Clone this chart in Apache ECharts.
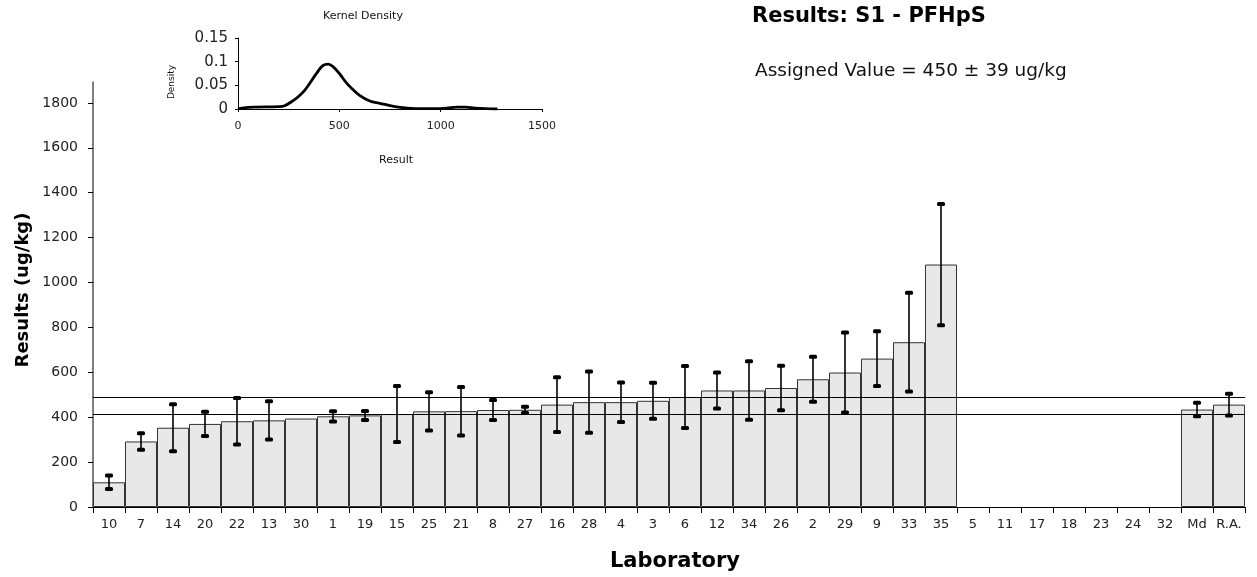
<!DOCTYPE html>
<html>
<head>
<meta charset="utf-8">
<script src="https://cdn.jsdelivr.net/npm/echarts@6/dist/echarts.min.js"></script>
<style>
  html, body { margin: 0; padding: 0; background: #fff; }
  #main { width: 1257px; height: 577px; }
</style>
</head>
<body>
<div id="main"></div>
<script>
// laboratories in plotted order
var labs = ['10','7','14','20','22','13','30','1','19','15','25','21','8','27','16','28','4','3','6',
  '12','34','26','2','29','9','33','35','5','11','17','18','23','24','32','Md','R.A.'];
var results = [110,292,353,370,382,386,394,404,408,414,426,427,432,433,456,467,467,473,490,
  519,519,530,569,599,661,734,1080,null,null,null,null,null,null,null,434,456];
// expanded uncertainty (+/-)
var uncert = [30,37,105,54,104,85,null,23,20,125,85,108,45,14,122,136,88,80,138,
  80,130,99,100,178,122,220,270,null,null,null,null,null,null,null,30,48];
var refLines = [412, 491];
var yTicks = [0,200,400,600,800,1000,1200,1400,1600,1800];

// kernel density inset
var densX = [0,20,80,200,230,270,300,330,360,390,420,445,470,500,530,560,600,650,700,750,800,850,900,980,1030,1080,1120,1170,1220,1280];
var densY = [0,0.002,0.004,0.005,0.007,0.017,0.027,0.040,0.058,0.077,0.092,0.095,0.089,0.075,0.058,0.044,0.029,0.017,0.012,0.007,0.0035,0.0014,0.0007,0.0007,0.002,0.004,0.004,0.002,0.0007,0];

var FONT = 'DejaVu Sans';

var myChart = echarts.init(document.getElementById('main'));

var errData = [];
for (var i = 0; i < labs.length; i++) {
  if (results[i] != null && uncert[i] != null) {
    errData.push([i, results[i] - uncert[i], results[i] + uncert[i]]);
  }
}

function renderErr(params, api) {
  var lo = api.coord([api.value(0), api.value(1)]);
  var hi = api.coord([api.value(0), api.value(2)]);
  var capW = 8, capH = 4;
  return {
    type: 'group',
    children: [
      { type: 'line', shape: { x1: lo[0], y1: lo[1], x2: hi[0], y2: hi[1] },
        style: { stroke: '#000', lineWidth: 1.6 } },
      { type: 'rect', shape: { x: hi[0] - capW / 2, y: hi[1] - capH / 2, width: capW, height: capH, r: 1.5 },
        style: { fill: '#000' } },
      { type: 'rect', shape: { x: lo[0] - capW / 2, y: lo[1] - capH / 2, width: capW, height: capH, r: 1.5 },
        style: { fill: '#000' } }
    ]
  };
}

function plain(v) { return String(v); }

myChart.setOption({
  animation: false,
  textStyle: { fontFamily: FONT },
  grid: [
    { left: 93, right: 12, top: 82, bottom: 70, outerBoundsMode: 'none' },
    { left: 238, top: 38, width: 304, height: 71, outerBoundsMode: 'none' }
  ],
  xAxis: [{
    type: 'category',
    gridIndex: 0,
    data: labs,
    axisLine: { lineStyle: { color: '#000', width: 1 } },
    axisTick: { show: true, length: 6, alignWithLabel: false, lineStyle: { color: '#000' } },
    axisLabel: { color: '#222', fontSize: 13, fontFamily: FONT, margin: 11, interval: 0 },
    splitLine: { show: false }
  }, {
    type: 'value',
    gridIndex: 1,
    min: 0, max: 1500, interval: 500,
    axisLine: { show: true, lineStyle: { color: '#000', width: 1 } },
    axisTick: { show: true, length: 3, lineStyle: { color: '#000' } },
    axisLabel: { color: '#222', fontSize: 11, fontFamily: FONT, margin: 12, formatter: plain },
    splitLine: { show: false }
  }],
  yAxis: [{
    type: 'value',
    gridIndex: 0,
    min: 0, max: 1893, interval: 200,
    axisLine: { show: true, lineStyle: { color: '#555', width: 1.5 } },
    axisTick: { show: true, length: 5, customValues: yTicks, lineStyle: { color: '#000' } },
    axisLabel: { color: '#222', fontSize: 14, fontFamily: FONT, margin: 15, customValues: yTicks, formatter: plain },
    splitLine: { show: false }
  }, {
    type: 'value',
    gridIndex: 1,
    min: 0, max: 0.15, interval: 0.05,
    axisLine: { show: true, lineStyle: { color: '#000', width: 1 } },
    axisTick: { show: true, length: 3, lineStyle: { color: '#000' } },
    axisLabel: { color: '#222', fontSize: 15, fontFamily: FONT, margin: 10, formatter: plain },
    splitLine: { show: false }
  }],
  series: [{
    name: 'Results',
    type: 'bar',
    xAxisIndex: 0, yAxisIndex: 0,
    data: results,
    barCategoryGap: '0%',
    itemStyle: { color: '#e8e8e8', borderColor: '#333', borderWidth: 1 },
    markLine: {
      silent: true,
      symbol: 'none',
      label: { show: false },
      lineStyle: { color: '#000', width: 1, type: 'solid' },
      data: refLines.map(function (v) { return { yAxis: v }; })
    }
  }, {
    name: 'Uncertainty',
    type: 'custom',
    xAxisIndex: 0, yAxisIndex: 0,
    renderItem: renderErr,
    data: errData,
    z: 5
  }, {
    name: 'Kernel Density',
    type: 'line',
    xAxisIndex: 1, yAxisIndex: 1,
    data: densX.map(function (x, k) { return [x, densY[k]]; }),
    smooth: 0.4,
    showSymbol: false,
    lineStyle: { color: '#000', width: 2.8 }
  }],
  graphic: [
    { type: 'text', x: 752, y: 17,
      style: { text: 'Results: S1 - PFHpS', font: 'bold 21px "DejaVu Sans"', fill: '#000',
        align: 'left', textAlign: 'left', verticalAlign: 'middle', textVerticalAlign: 'middle' } },
    { type: 'text', x: 755, y: 71,
      style: { text: 'Assigned Value = 450 \u00b1 39 ug/kg', font: '18.5px "DejaVu Sans"', fill: '#111',
        align: 'left', textAlign: 'left', verticalAlign: 'middle', textVerticalAlign: 'middle' } },
    { type: 'text', x: 675, y: 562,
      style: { text: 'Laboratory', font: 'bold 21px "DejaVu Sans"', fill: '#000',
        align: 'center', textAlign: 'center', verticalAlign: 'middle', textVerticalAlign: 'middle' } },
    { type: 'text', x: 23, y: 290, rotation: Math.PI / 2,
      style: { text: 'Results (ug/kg)', font: 'bold 18px "DejaVu Sans"', fill: '#000',
        align: 'center', textAlign: 'center', verticalAlign: 'middle', textVerticalAlign: 'middle' } },
    { type: 'text', x: 363, y: 16,
      style: { text: 'Kernel Density', font: '11px "DejaVu Sans"', fill: '#111',
        align: 'center', textAlign: 'center', verticalAlign: 'middle', textVerticalAlign: 'middle' } },
    { type: 'text', x: 172, y: 82, rotation: Math.PI / 2,
      style: { text: 'Density', font: '9px "DejaVu Sans"', fill: '#111',
        align: 'center', textAlign: 'center', verticalAlign: 'middle', textVerticalAlign: 'middle' } },
    { type: 'text', x: 396, y: 160,
      style: { text: 'Result', font: '11px "DejaVu Sans"', fill: '#111',
        align: 'center', textAlign: 'center', verticalAlign: 'middle', textVerticalAlign: 'middle' } }
  ]
});
</script>
</body>
</html>
